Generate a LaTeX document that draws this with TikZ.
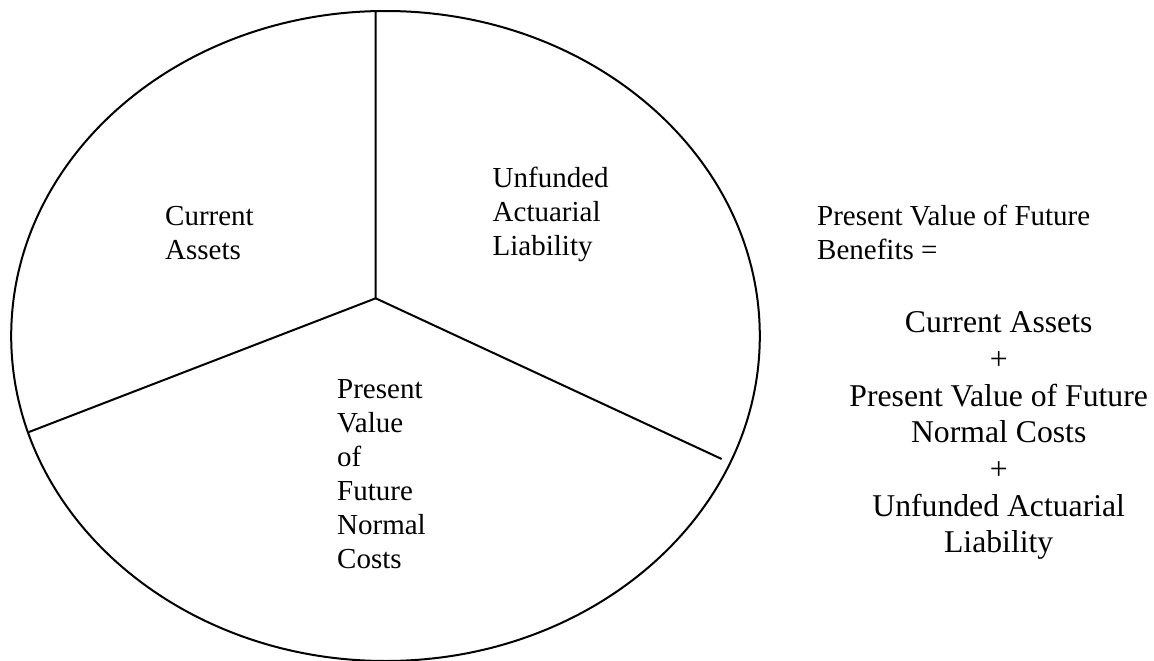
\documentclass[tikz,border=0pt]{standalone}
\usepackage{fontspec}
\setmainfont{Liberation Serif}
\usetikzlibrary{shapes.geometric}
\begin{document}
\begin{tikzpicture}[x=1pt,y=-1pt,
  pieline/.style={line width=2pt},
  pietext/.style={inner sep=0pt,align=left,anchor=base west,font=\fontsize{29}{34}\selectfont},
  sidetext/.style={inner sep=0pt,align=left,anchor=base west,font=\fontsize{29}{33.6}\selectfont},
  sumtext/.style={inner sep=0pt,align=center,anchor=base,font=\fontsize{31.7}{36.7}\selectfont}]
\useasboundingbox (0,0) rectangle (1154,661);
\fill[white] (0,0) rectangle (1154,661);
\node[draw,pieline,ellipse,minimum width=748.6pt,minimum height=650pt,inner sep=0pt] (pie) at (385.5,336) {};
\coordinate (c) at (375.7,298.3);
\coordinate (top) at (375.5,10.5);
\coordinate (ll) at (29,432);
\coordinate (lr) at (721.7,459);
\draw[pieline] (c) -- (top);
\draw[pieline] (c) -- (ll);
\draw[pieline] (c) -- (lr);
\node[pietext] (ca) at (165,259.5) {Current\\Assets};
\node[pietext] (ual) at (492.5,255.6) {Unfunded\\Actuarial\\Liability};
\node[pietext] (pv) at (337,568) {Present\\Value\\of\\Future\\Normal\\Costs};
\node[sidetext] (pvfb) at (817,259.3) {Present Value of Future\\Benefits =};
\node[sumtext] (sum) at (998.7,552.9) {Current Assets\\+\\Present Value of Future\\Normal Costs\\+\\Unfunded Actuarial\\Liability};
\end{tikzpicture}
\end{document}
